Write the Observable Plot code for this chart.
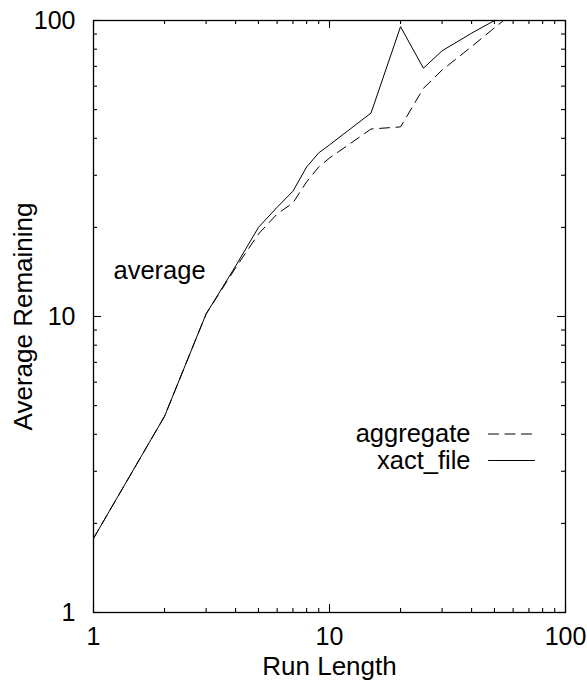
<!DOCTYPE html>
<html>
<head>
<meta charset="utf-8">
<script src="https://cdn.jsdelivr.net/npm/d3@7"></script>
<script src="https://cdn.jsdelivr.net/npm/@observablehq/plot@0.6"></script>
<style>
  html, body { margin: 0; padding: 0; background: #fff; }
</style>
</head>
<body>
<div id="chart"></div>
<script>
// Data
const runLength = [1, 2, 3, 4, 5, 6, 7, 8, 9, 10, 15, 20, 25, 30, 40, 50, 60];
const aggregate = [1.78, 4.6, 10.2, 14.6, 19, 22.2, 24.2, 28.5, 32, 34.3, 43, 43.7, 59, 68, 81.6, 94.5, 106];
const xactFile  = [1.78, 4.6, 10.2, 14.8, 20, 23.4, 26.5, 32, 35.7, 38, 48.7, 95.3, 69, 79, 90.6, 100, 108];
const seriesNames = ["aggregate", "xact_file"];
const majorTicks = [1, 10, 100];
const minorTicks = [2, 3, 4, 5, 6, 7, 8, 9, 20, 30, 40, 50, 60, 70, 80, 90];
const xLabel = "Run Length";
const yLabel = "Average Remaining";
const annotation = "average";

const font = "'Liberation Sans', Arial, Helvetica, sans-serif";
const fs = 26;
const W = 587, H = 681, mL = 93, mR = 22, mT = 20, mB = 69;
const frameW = W - mL - mR, frameH = H - mT - mB;

const rows = [];
runLength.forEach((x, i) => {
  rows.push({series: seriesNames[0], x, y: aggregate[i]});
});
runLength.forEach((x, i) => {
  rows.push({series: seriesNames[1], x, y: xactFile[i]});
});

const dashFor = {"aggregate": "10,6.5", "xact_file": null};
const lineShape = {draw(context, l) { context.moveTo(0, 0); context.lineTo(0, -l); }};

// inward tick marks on all four sides
function tickMarks(ticks, len) {
  const s = {stroke: "black", strokeWidth: 1.1};
  return [
    Plot.tickX(ticks, {x: d => d, insetTop: frameH - len, ...s}),
    Plot.tickX(ticks, {x: d => d, insetBottom: frameH - len, ...s}),
    Plot.tickY(ticks, {y: d => d, insetRight: frameW - len, ...s}),
    Plot.tickY(ticks, {y: d => d, insetLeft: frameW - len, ...s})
  ];
}

const legendMarks = seriesNames.flatMap((name, i) => [
  Plot.text([name], {
    text: d => d, frameAnchor: "bottom-right", dx: -95, dy: -178.5 + i * 26.5,
    textAnchor: "end", lineAnchor: "middle", fontSize: 25.5, fill: "black"
  }),
  Plot.vector([name], {
    frameAnchor: "bottom-right", dx: -77, dy: -178.5 + i * 26.5,
    length: 46, rotate: 90, anchor: "start", shape: lineShape,
    stroke: "black", strokeWidth: 1, strokeDasharray: dashFor[name]
  })
]);

const chart = Plot.plot({
  width: W,
  height: H,
  marginLeft: mL,
  marginRight: mR,
  marginTop: mT,
  marginBottom: mB,
  style: {fontFamily: font, fontSize: fs + "px", background: "white", color: "black"},
  x: {type: "log", domain: [1, 100]},
  y: {type: "log", domain: [1, 100]},
  marks: [
    ...tickMarks(minorTicks, 4),
    ...tickMarks(majorTicks, 8),
    // tick labels
    Plot.axisX(majorTicks, {anchor: "bottom", tickSize: 0, tickPadding: 15, tickFormat: d => String(d), fontSize: 25, label: null}),
    Plot.axisY(majorTicks, {anchor: "left", tickSize: 0, tickPadding: 18, tickFormat: d => String(d), fontSize: 25, label: null}),
    // data lines
    Plot.line(rows.filter(d => d.series === "aggregate"), {
      x: "x", y: "y", stroke: "black", strokeWidth: 1, strokeDasharray: dashFor["aggregate"], clip: true
    }),
    Plot.line(rows.filter(d => d.series === "xact_file"), {
      x: "x", y: "y", stroke: "black", strokeWidth: 1, clip: true
    }),
    Plot.frame({stroke: "black", strokeWidth: 1.3}),
    // axis titles
    Plot.text([xLabel], {text: d => d, frameAnchor: "bottom", dy: 54, textAnchor: "middle", lineAnchor: "middle", fontSize: fs, fill: "black"}),
    Plot.text([yLabel], {text: d => d, frameAnchor: "left", dx: -70, rotate: -90, textAnchor: "middle", lineAnchor: "middle", fontSize: fs, fill: "black"}),
    // annotation
    Plot.text([annotation], {text: d => d, frameAnchor: "top-left", dx: 20, dy: 250.7, textAnchor: "start", lineAnchor: "middle", fontSize: 25.5, fill: "black"}),
    ...legendMarks
  ]
});
document.getElementById("chart").append(chart);
</script>
</body>
</html>
